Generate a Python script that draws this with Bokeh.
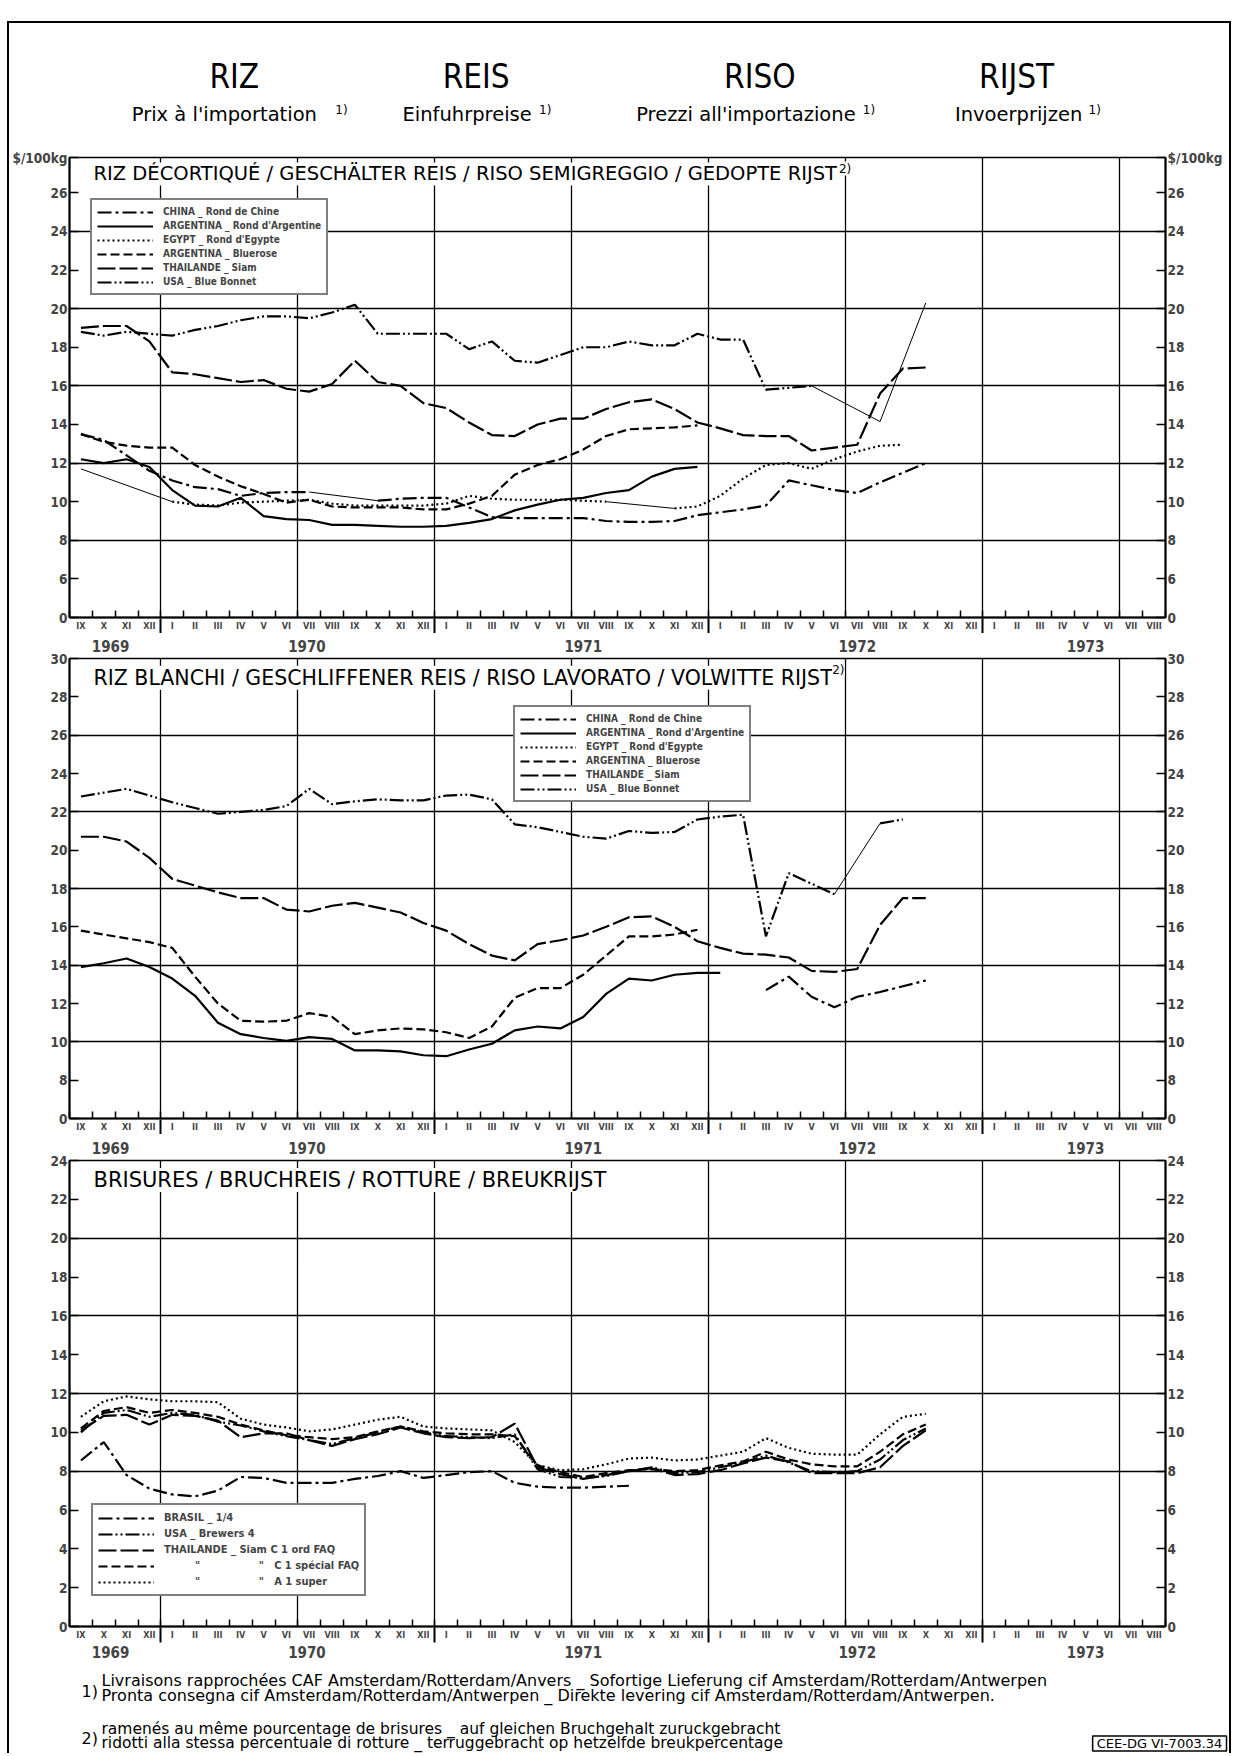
import math
from bokeh.plotting import figure
from bokeh.models import Range1d, LinearAxis, FixedTicker, Label, Legend, LegendItem, Grid
from bokeh.layouts import column, row
from bokeh.embed import file_html
from bokeh.resources import INLINE

NA = float("nan")

# ---------------- categories ----------------
MONTHS = (["IX", "X", "XI", "XII"]
          + ["I", "II", "III", "IV", "V", "VI", "VII", "VIII", "IX", "X", "XI", "XII"] * 3
          + ["I", "II", "III", "IV", "V", "VI", "VII", "VIII"])
YEARS = ["1969", "1970", "1971", "1972", "1973"]

# ---------------- data ($/100kg), monthly from IX 1969 to X 1972 ----------------
# Panel 1: RIZ DECORTIQUE
P1_CHINA = [13.5, 13.2, 12.4, 11.6, 11.1, 10.75, 10.65, 10.3, 10.45, 10.5, 10.5, NA, NA,
            10.05, 10.15, 10.2, 10.2, 9.7, 9.2, 9.15, 9.15, 9.15, 9.15, 9.0, 8.95, 8.95, 9.0,
            9.3, 9.45, 9.6, 9.8, 11.1, 10.85, 10.6, 10.45, 11.0, 11.5, 12.0]
P1_ARG_ROND = [12.2, 12.0, 12.2, 11.8, 10.6, 9.8, 9.75, 10.2, 9.25, 9.1, 9.05, 8.8, 8.8, 8.75,
               8.7, 8.7, 8.75, 8.9, 9.1, 9.55, 9.85, 10.1, 10.2, 10.45, 10.6, 11.3, 11.7, 11.8,
               NA, NA, NA, NA, NA, NA, NA, NA, NA, NA]
P1_EGYPT = [11.7, NA, NA, NA, 10.0, 9.85, 9.8, 9.95, 10.0, 10.05, 10.1, 9.9, 9.8, 9.8, 9.8, 9.8,
            9.9, 10.3, 10.15, 10.1, 10.1, 10.1, 10.05, 10.0, NA, NA, 9.65, 9.75, 10.3, 11.2, 11.9,
            12.0, 11.7, 12.2, 12.6, 12.9, 12.95, NA]
P1_BLUEROSE = [13.5, 13.1, 12.9, 12.8, 12.8, 11.9, 11.3, 10.8, 10.4, 9.95, 10.1, 9.75, 9.7, 9.7,
               9.7, 9.6, 9.6, 9.9, 10.3, 11.4, 11.9, 12.2, 12.7, 13.4, 13.75, 13.8, 13.85, 13.95,
               NA, NA, NA, NA, NA, NA, NA, NA, NA, NA]
P1_THAI = [19.0, 19.1, 19.1, 18.3, 16.7, 16.6, 16.4, 16.2, 16.3, 15.85, 15.7, 16.1, 17.3, 16.2,
           16.0, 15.1, 14.85, 14.1, 13.45, 13.4, 14.0, 14.3, 14.3, 14.8, 15.15, 15.3, 14.8, 14.1,
           13.8, 13.45, 13.4, 13.4, 12.65, 12.8, 12.95, 15.6, 16.9, 16.95]
P1_USA = [18.8, 18.6, 18.8, 18.7, 18.6, 18.9, 19.1, 19.4, 19.6, 19.6, 19.5, 19.8, 20.2, 18.7,
          18.7, 18.7, 18.7, 17.9, 18.3, 17.3, 17.2, 17.6, 18.0, 18.0, 18.3, 18.1, 18.1, 18.7,
          18.4, 18.4, 15.8, 15.9, 16.0, NA, NA, 14.15, NA, 20.3]

# Panel 2: RIZ BLANCHI
P2_CHINA = [NA] * 30 + [12.7, 13.4, 12.35, 11.8, 12.35, 12.6, 12.9, 13.2]
P2_ARG_ROND = [13.9, 14.1, 14.35, 13.9, 13.3, 12.4, 11.0, 10.4, 10.2, 10.05, 10.25, 10.15, 9.55,
               9.55, 9.5, 9.3, 9.25, 9.6, 9.9, 10.6, 10.8, 10.7, 11.3, 12.5, 13.3, 13.2, 13.5,
               13.6, 13.6, NA, NA, NA, NA, NA, NA, NA, NA, NA]
P2_EGYPT = [NA] * 38
P2_BLUEROSE = [15.8, 15.6, 15.4, 15.2, 14.9, 13.4, 12.0, 11.1, 11.05, 11.1, 11.5, 11.3, 10.4,
               10.6, 10.7, 10.65, 10.5, 10.2, 10.8, 12.3, 12.8, 12.8, 13.5, 14.5, 15.5, 15.5,
               15.6, 15.85, NA, NA, NA, NA, NA, NA, NA, NA, NA, NA]
P2_THAI = [20.7, 20.7, 20.45, 19.6, 18.5, 18.15, 17.8, 17.5, 17.5, 16.9, 16.8, 17.1, 17.25, 17.0,
           16.75, 16.2, 15.8, 15.1, 14.5, 14.25, 15.1, 15.3, 15.55, 16.0, 16.5, 16.55, 16.0,
           15.25, 14.9, 14.6, 14.55, 14.4, 13.7, 13.65, 13.8, 16.1, 17.5, 17.5]
P2_USA = [22.8, 23.0, 23.2, 22.85, 22.5, 22.2, 21.9, 22.0, 22.1, 22.3, 23.2, 22.4, 22.55, 22.65,
          22.6, 22.6, 22.85, 22.9, 22.65, 21.35, 21.2, 20.95, 20.7, 20.6, 21.0, 20.9, 20.95,
          21.6, 21.75, 21.85, 15.5, 18.8, 18.25, 17.7, NA, 21.4, 21.6, NA]

# Panel 3: BRISURES
P3_BRASIL = [8.55, 9.5, 7.8, 7.1, 6.8, 6.7, 7.0, 7.7, 7.65, 7.4, 7.4, 7.4, 7.6, 7.75, 8.0, 7.65,
             7.8, 7.95, 8.0, 7.4, 7.2, 7.15, 7.15, 7.2, 7.25] + [NA] * 13
P3_USA = [10.0, 11.0, 11.15, 10.8, 11.0, 10.9, 10.55, 10.35, 10.05, 9.8, 9.6, 9.4, 9.7, 10.0,
          10.3, 10.0, 9.8, 9.75, 9.7, 9.9, 8.1, 7.7, 7.65, 7.75, 8.0, 8.2, 7.9, 7.95, 8.2, 8.45,
          8.8, 8.45, 8.0, 7.95, 8.0, 8.6, 9.6, 10.2]
P3_C1_ORD = [10.1, 10.85, 10.9, 10.4, 10.9, 10.85, 10.6, 9.75, 9.95, 9.95, 9.6, 9.3, 9.65, 9.9,
             10.25, 9.95, 9.75, 9.7, 9.75, 10.45, 8.2, 7.85, 7.6, 7.8, 8.0, 8.15, 7.8, 7.85,
             8.05, 8.4, 8.7, 8.5, 7.9, 7.9, 7.9, 8.2, 9.3, 10.1]
P3_C1_SPEC = [10.2, 11.1, 11.3, 11.0, 11.15, 11.0, 10.8, 10.4, 10.1, 9.85, 9.75, 9.65, 9.75,
              10.05, 10.3, 10.05, 9.95, 9.9, 9.9, 9.8, 8.3, 7.95, 7.7, 7.9, 8.05, 8.1, 8.0, 8.05,
              8.3, 8.5, 9.0, 8.6, 8.35, 8.25, 8.25, 9.0, 9.9, 10.4]
P3_A1 = [10.8, 11.6, 11.85, 11.7, 11.6, 11.6, 11.55, 10.7, 10.4, 10.25, 10.05, 10.15, 10.4,
         10.65, 10.8, 10.3, 10.2, 10.15, 10.1, 9.5, 8.3, 8.05, 8.1, 8.35, 8.65, 8.7, 8.55, 8.6,
         8.8, 9.0, 9.7, 9.2, 8.9, 8.85, 8.85, 9.9, 10.8, 10.95]

# ---------------- texts ----------------
TITLES = ["RIZ", "REIS", "RISO", "RIJST"]
SUBTITLES = ["Prix à l'importation", "Einfuhrpreise", "Prezzi all'importazione", "Invoerprijzen"]
PANEL_TITLES = ["RIZ DÉCORTIQUÉ / GESCHÄLTER REIS / RISO SEMIGREGGIO / GEDOPTE RIJST",
                "RIZ BLANCHI / GESCHLIFFENER REIS / RISO LAVORATO / VOLWITTE RIJST",
                "BRISURES / BRUCHREIS / ROTTURE / BREUKRIJST"]
NB = "\u00a0"
LEG_12 = ["CHINA _ Rond de Chine", "ARGENTINA _ Rond d'Argentine", "EGYPT _ Rond d'Egypte",
          "ARGENTINA _ Bluerose", "THAILANDE _ Siam", "USA _ Blue Bonnet"]
LEG_3 = ["BRASIL _ 1/4", "USA _ Brewers 4", "THAILANDE _ Siam C 1 ord FAQ",
         NB * 9 + '"' + NB * 17 + '"' + NB * 3 + "C 1 spécial FAQ",
         NB * 9 + '"' + NB * 17 + '"' + NB * 3 + "A 1 super"]
FOOT = ["Livraisons rapprochées CAF Amsterdam/Rotterdam/Anvers _ Sofortige Lieferung cif Amsterdam/Rotterdam/Antwerpen",
        "Pronta consegna cif Amsterdam/Rotterdam/Antwerpen _ Direkte levering cif Amsterdam/Rotterdam/Antwerpen.",
        "ramenés au même pourcentage de brisures _ auf gleichen Bruchgehalt zuruckgebracht",
        "ridotti alla stessa percentuale di rotture _ terruggebracht op hetzelfde breukpercentage"]
REF = "CEE-DG VI-7003.34"
UNIT = "$/100kg"

# ---------------- layout / styling ----------------
W = 1220                 # width of every figure
X0 = 9                   # page x where the figures start
FL, FR = 68, 1165        # page x of the plot frames
ML = FL - X0
MR = W - ML - (FR - FL)
FONT = "DejaVu Sans"
FONT_C = "DejaVu Sans Condensed, DejaVu Sans"
DASH = {"china": "14 4 3 4", "solid": "solid", "dot": "2 3", "dash": "9 4",
        "long": "18 4", "usa": "14 3 2 3 2 3"}

N_MONTHS = len(MONTHS)
CENTERS = [i + 0.5 for i in range(N_MONTHS)]
BOUNDS = list(range(N_MONTHS + 1))
YEAR_BOUNDS = [i for i, m in enumerate(MONTHS) if m == "I"]
VGRID = [i for i, m in enumerate(MONTHS) if m in ("I", "VII")]
YEAR_POS = [1.8, 10.4, 22.5, 34.5, 44.5]
YEAR_LABELS = {c: y for c, y in zip(YEAR_POS, YEARS)}


def deco(height, x_lo, x_hi, left, right):
    """Header/footer figure; x in page pixels, y in pixels from its top."""
    f = figure(width=W, height=height, x_range=Range1d(x_lo, x_hi), y_range=Range1d(height, 0),
               x_axis_type=None, y_axis_type=None, output_backend="svg",
               toolbar_location=None, min_border_left=left, min_border_right=right,
               min_border_top=0, min_border_bottom=0)
    f.outline_line_color = None
    f.background_fill_color = "white"
    f.border_fill_color = "white"
    return f


def lab(f, x, y, text, size, font=FONT, style="normal", align="left", **kw):
    f.add_layout(Label(x=x, y=y, text=text, text_font=font, text_font_size=size,
                       text_font_style=style, text_align=align, text_baseline="middle",
                       text_color="black", **kw))


def year_axis(labels, standoff):
    return LinearAxis(ticker=FixedTicker(ticks=YEAR_POS if labels else [], minor_ticks=YEAR_BOUNDS),
                      major_label_overrides=YEAR_LABELS,
                      axis_line_color=None, major_tick_in=0, major_tick_out=0,
                      minor_tick_in=15, minor_tick_out=0, minor_tick_line_width=2,
                      major_label_text_font=FONT_C, major_label_text_font_size="15px",
                      major_label_text_font_style="bold", major_label_standoff=standoff)


def panel(height, y0, y1, ticks, overrides, hgrid, top, bottom, years_above, years_below):
    p = figure(width=W, height=height, x_range=Range1d(0, N_MONTHS), y_range=Range1d(y0, y1),
               x_axis_type=None, y_axis_type=None, output_backend="svg", toolbar_location=None,
               min_border_left=ML, min_border_right=MR, min_border_top=top, min_border_bottom=bottom)
    p.outline_line_color = "black"
    p.outline_line_width = 1.5
    p.background_fill_color = "white"
    p.border_fill_color = "white"
    p.add_layout(Grid(dimension=0, ticker=FixedTicker(ticks=VGRID),
                      grid_line_color="black", grid_line_width=1.3))
    p.add_layout(Grid(dimension=1, ticker=FixedTicker(ticks=hgrid),
                      grid_line_color="black", grid_line_width=1.3))
    for side in ("left", "right"):
        ax = LinearAxis(ticker=FixedTicker(ticks=ticks), major_label_overrides=overrides,
                        major_tick_in=9, major_tick_out=0, minor_tick_in=0, minor_tick_out=0,
                        axis_line_width=2, major_tick_line_width=1.5,
                        major_label_text_font=FONT_C, major_label_text_font_size="13.5px",
                        major_label_text_font_style="bold", major_label_standoff=2)
        p.add_layout(ax, side)
    xa = LinearAxis(ticker=FixedTicker(ticks=CENTERS, minor_ticks=BOUNDS),
                    major_label_overrides={c: m for c, m in zip(CENTERS, MONTHS)},
                    major_tick_in=0, major_tick_out=0, minor_tick_in=7, minor_tick_out=0,
                    minor_tick_line_width=1.5, axis_line_width=2,
                    major_label_text_font=FONT_C, major_label_text_font_size="9px",
                    major_label_text_font_style="bold", major_label_standoff=3)
    p.add_layout(xa, "below")
    # year separators (and the year names when this is the last panel)
    p.add_layout(year_axis(years_below, 3), "below")
    if years_above:
        # year names of the panel above, written just above this panel's frame
        ya = year_axis(True, 7)
        ya.minor_tick_in = 0
        p.add_layout(ya, "above")
    return p


def series(p, vals, dash):
    xs = CENTERS[:len(vals)]
    r = p.line(xs, vals, line_color="black", line_width=2.2, line_dash=dash)
    idx = [i for i, v in enumerate(vals) if not math.isnan(v)]
    cx, cy = [], []
    for a, b in zip(idx, idx[1:]):
        if b - a > 1:
            cx.append([xs[a], xs[b]])
            cy.append([vals[a], vals[b]])
    if cx:
        p.multi_line(cx, cy, line_color="black", line_width=1)
    return r


def legend(p, labels, rends, loc, size, row_h):
    leg = Legend(items=[LegendItem(label=l, renderers=[r]) for l, r in zip(labels, rends)],
                 location=loc, border_line_color="black", border_line_width=2,
                 background_fill_color="white", background_fill_alpha=1.0,
                 label_text_font=FONT_C, label_text_font_size=size,
                 label_text_font_style="bold", glyph_width=56, glyph_height=10,
                 label_height=row_h, spacing=1, padding=5, margin=0, label_standoff=10)
    p.add_layout(leg)


# ---------------- header ----------------
hdr = deco(117, FL, FR, ML, MR)
TITLE_X = [233, 475, 759, 1016]
SUB_X = [223, 466, 745, 1018]
SUP_X = [334, 538, 862, 1088]
for t, x in zip(TITLES, TITLE_X):
    lab(hdr, x, 53, t, "33px", font=FONT_C, align="center")
for s, x, sx in zip(SUBTITLES, SUB_X, SUP_X):
    lab(hdr, x, 91, s, "19.5px", align="center")
    lab(hdr, sx, 86, "1)", "12px")

# ---------------- panel 1 ----------------
TOP1 = 27.82
p1 = panel(493, 4, 27.83, list(range(4, 27, 2)) + [TOP1], {4: "0", TOP1: UNIT},
           [8, 12, 16, 20, 24], 17, 14, False, False)
r = [series(p1, P1_CHINA, DASH["china"]), series(p1, P1_ARG_ROND, DASH["solid"]),
     series(p1, P1_EGYPT, DASH["dot"]), series(p1, P1_BLUEROSE, DASH["dash"]),
     series(p1, P1_THAI, DASH["long"]), series(p1, P1_USA, DASH["usa"])]
legend(p1, LEG_12, r, (21, 322), "10px", 13)
lab(p1, 1.05, 26.98, PANEL_TITLES[0], "19.5px",
    background_fill_color="white", background_fill_alpha=1.0)
lab(p1, 33.7, 27.26, "2)", "12px",
    background_fill_color="white", background_fill_alpha=1.0)

# ---------------- panel 2 ----------------
p2 = panel(501, 6, 30, list(range(6, 31, 2)), {6: "0"}, [10, 14, 18, 22, 26], 25, 14,
           True, False)
r = [series(p2, P2_CHINA, DASH["china"]), series(p2, P2_ARG_ROND, DASH["solid"]),
     series(p2, P2_EGYPT, DASH["dot"]), series(p2, P2_BLUEROSE, DASH["dash"]),
     series(p2, P2_THAI, DASH["long"]), series(p2, P2_USA, DASH["usa"])]
legend(p2, LEG_12, r, (444, 316), "10px", 13)
lab(p2, 1.05, 29.0, PANEL_TITLES[1], "20.5px",
    background_fill_color="white", background_fill_alpha=1.0)
lab(p2, 33.4, 29.4, "2)", "12px",
    background_fill_color="white", background_fill_alpha=1.0)

# ---------------- panel 3 ----------------
p3 = panel(526, 0, 24, list(range(0, 25, 2)), {}, [8, 12, 16, 20], 26, 34, True, True)
r = [series(p3, P3_BRASIL, DASH["china"]), series(p3, P3_USA, DASH["usa"]),
     series(p3, P3_C1_ORD, DASH["long"]), series(p3, P3_C1_SPEC, DASH["dash"]),
     series(p3, P3_A1, DASH["dot"])]
legend(p3, LEG_3, r, (22, 30), "11px", 15)
lab(p3, 1.05, 23.0, PANEL_TITLES[2], "21px",
    background_fill_color="white", background_fill_alpha=1.0)

# ---------------- footer ----------------
ftr = deco(93, FL, X0 + W, ML, 0)
lab(ftr, 101, 20, FOOT[0], "16px")
lab(ftr, 101, 35, FOOT[1], "16px")
lab(ftr, 81, 31, "1)", "16px")
lab(ftr, 101, 68, FOOT[2], "15.5px")
lab(ftr, 101, 82.5, FOOT[3], "15.5px")
lab(ftr, 81, 78, "2)", "16px")
lab(ftr, 1226, 83, NB + REF + NB, "13px", align="right", border_line_color="black",
    border_line_width=1.5, background_fill_color="white")

page = column(hdr, p1, p2, p3, row(ftr), spacing=0,
              styles={"border-top": "2px solid black", "border-left": "2px solid black",
                      "border-right": "2px solid black", "margin-top": "21px",
                      "margin-left": "7px"})

open("out.html", "w").write(file_html(page, INLINE))
